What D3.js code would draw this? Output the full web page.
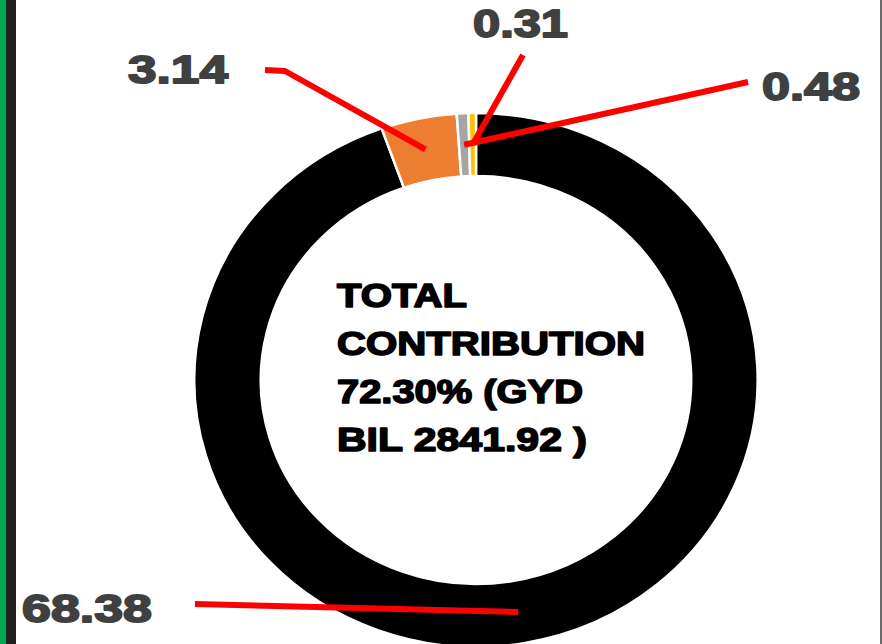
<!DOCTYPE html>
<html>
<head>
<meta charset="utf-8">
<script src="https://cdn.jsdelivr.net/npm/d3@7"></script>
<style>
  html, body { margin: 0; padding: 0; background: #fff; }
  svg { display: block; }
</style>
</head>
<body>
<div id="chart"></div>
<script>
// slice values, clockwise from 12 o'clock
const labels = ["68.38", "3.14", "0.48", "0.31"];
const values = [68.38, 3.14, 0.48, 0.31];
const colors = ["#000000", "#ED7D31", "#A5A5A5", "#FFC000"];
const centerLines = ["TOTAL", "CONTRIBUTION", "72.30% (GYD", "BIL 2841.92 )"];

const width = 882;
const height = 644;
const cx = 476, cy = 380;
const rOuter = 267, rInner = 204;
const sx = 1.055; // the picture is a little wider than tall

// where each data label sits and where its leader line starts
const labelPos = [
    { x: 22, y: 622, w: 130, line: [[195, 604]] },
    { x: 128, y: 83, w: 100, line: [[265, 70], [285, 71]] },
    { x: 762, y: 100, w: 98, line: [[748, 82]] },
    { x: 473, y: 37, w: 95, line: [[523, 55]] }
];

const svg = d3.select("#chart")
    .append("svg")
    .attr("width", width)
    .attr("height", height);

// frame
svg.append("rect").attr("x", 0).attr("y", 0).attr("width", 6).attr("height", height).attr("fill", "#00A651");
svg.append("rect").attr("x", 6).attr("y", 0).attr("width", 10).attr("height", height).attr("fill", "#231F20");
svg.append("rect").attr("x", 880).attr("y", 0).attr("width", 2).attr("height", height).attr("fill", "#6b6b6b");

const pie = d3.pie().sort(null).value(d => d);
const arcs = pie(values);

const arc = d3.arc()
    .innerRadius(rInner)
    .outerRadius(rOuter);

const donut = svg.append("g")
    .attr("transform", `translate(${cx},${cy}) scale(${sx},1)`);

donut.selectAll("path")
    .data(arcs)
    .enter()
    .append("path")
    .attr("d", arc)
    .attr("fill", (d, i) => colors[i])
    .attr("stroke", "#fff")
    .attr("stroke-width", 2.5)
    .attr("vector-effect", "non-scaling-stroke");

// leader lines from labels to slice centroids
const line = d3.line();
svg.selectAll("path.leader")
    .data(arcs)
    .enter()
    .append("path")
    .attr("class", "leader")
    .attr("d", (d, i) => {
        const c = arc.centroid(d);
        const end = [cx + c[0] * sx, cy + c[1]];
        return line(labelPos[i].line.concat([end]));
    })
    .attr("fill", "none")
    .attr("stroke", "#FF0000")
    .attr("stroke-width", 6)
    .attr("stroke-linejoin", "round");

svg.selectAll("text.val")
    .data(labels)
    .enter()
    .append("text")
    .attr("class", "val")
    .attr("x", (d, i) => labelPos[i].x)
    .attr("y", (d, i) => labelPos[i].y)
    .attr("textLength", (d, i) => labelPos[i].w)
    .attr("lengthAdjust", "spacingAndGlyphs")
    .attr("font-family", "Liberation Sans, Arial, sans-serif")
    .attr("font-weight", "bold")
    .attr("font-size", 39)
    .attr("fill", "#404040")
    .attr("stroke", "#404040")
    .attr("stroke-width", 1.8)
    .attr("stroke-linejoin", "round")
    .text(d => d);

const centerW = [130, 308, 246, 250];
svg.selectAll("text.center")
    .data(centerLines)
    .enter()
    .append("text")
    .attr("class", "center")
    .attr("x", 337)
    .attr("y", (d, i) => 307 + i * 48)
    .attr("textLength", (d, i) => centerW[i])
    .attr("lengthAdjust", "spacingAndGlyphs")
    .attr("font-family", "Liberation Sans, Arial, sans-serif")
    .attr("font-weight", "bold")
    .attr("font-size", 34)
    .attr("fill", "#000")
    .attr("stroke", "#000")
    .attr("stroke-width", 1.6)
    .attr("stroke-linejoin", "round")
    .text(d => d);
</script>
</body>
</html>
